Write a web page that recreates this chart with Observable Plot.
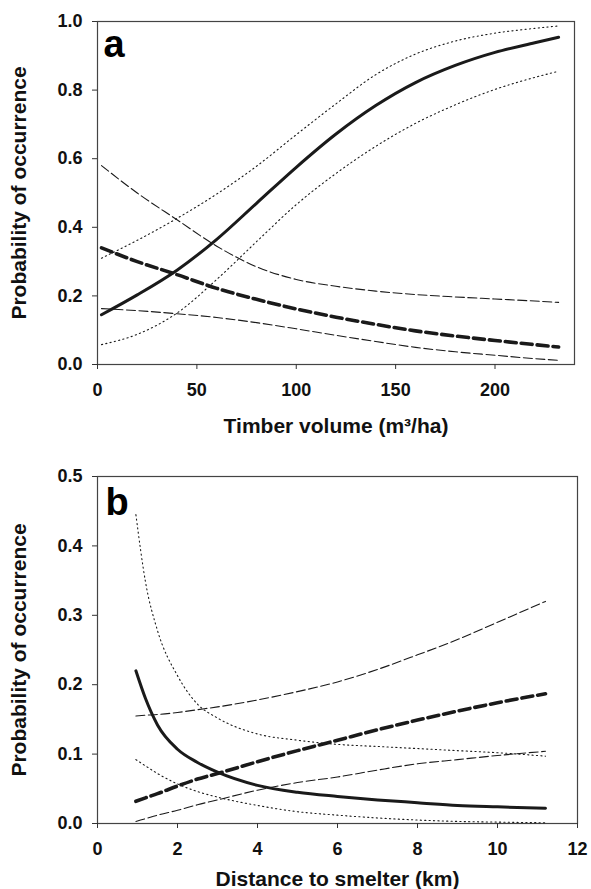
<!DOCTYPE html>
<html>
<head>
<meta charset="utf-8">
<script src="https://cdn.jsdelivr.net/npm/d3@7"></script>
<script src="https://cdn.jsdelivr.net/npm/@observablehq/plot@0.6"></script>
<style>
  html, body { margin: 0; padding: 0; background: #fff; }
  #chart { width: 591px; }
  #chart svg { display: block; }
</style>
</head>
<body>
<div id="chart"></div>
<script>
// ---------- Panel a: Timber volume ----------
const xA = [2, 20, 40, 60, 80, 100, 120, 140, 160, 180, 200, 220, 232];
const aFitSolid   = [0.145, 0.203, 0.275, 0.365, 0.470, 0.575, 0.672, 0.755, 0.822, 0.872, 0.910, 0.938, 0.954];
const aUpperDot   = [0.310, 0.362, 0.426, 0.497, 0.578, 0.670, 0.760, 0.845, 0.905, 0.943, 0.966, 0.980, 0.987];
const aLowerDot   = [0.058, 0.088, 0.150, 0.248, 0.358, 0.466, 0.557, 0.636, 0.703, 0.757, 0.802, 0.837, 0.855];
const aFitDash    = [0.340, 0.300, 0.262, 0.222, 0.190, 0.162, 0.138, 0.117, 0.098, 0.083, 0.070, 0.058, 0.051];
const aUpperDash  = [0.580, 0.500, 0.422, 0.345, 0.285, 0.248, 0.228, 0.214, 0.204, 0.197, 0.191, 0.185, 0.181];
const aLowerDash  = [0.163, 0.157, 0.148, 0.137, 0.122, 0.104, 0.085, 0.067, 0.050, 0.037, 0.027, 0.017, 0.012];
const aTicksX = [0, 50, 100, 150, 200];
const aTicksY = [0, 0.2, 0.4, 0.6, 0.8, 1.0];

// ---------- Panel b: Distance to smelter ----------
const xB = [0.96, 1.2, 1.5, 2, 2.5, 3, 4, 5, 6, 7, 8, 9, 10, 11.2];
const bFitSolid   = [0.220, 0.180, 0.142, 0.107, 0.088, 0.074, 0.055, 0.045, 0.039, 0.034, 0.030, 0.026, 0.024, 0.022];
const bUpperDot   = [0.445, 0.348, 0.278, 0.213, 0.172, 0.152, 0.129, 0.120, 0.114, 0.111, 0.108, 0.105, 0.102, 0.097];
const bLowerDot   = [0.092, 0.083, 0.072, 0.057, 0.046, 0.038, 0.026, 0.017, 0.012, 0.008, 0.005, 0.003, 0.002, 0.001];
const bFitDash    = [0.032, 0.037, 0.043, 0.054, 0.064, 0.072, 0.089, 0.105, 0.120, 0.135, 0.149, 0.162, 0.174, 0.187];
const bUpperDash  = [0.155, 0.156, 0.157, 0.160, 0.164, 0.168, 0.178, 0.190, 0.204, 0.222, 0.243, 0.265, 0.290, 0.320];
const bLowerDash  = [0.003, 0.007, 0.012, 0.019, 0.027, 0.034, 0.048, 0.059, 0.067, 0.077, 0.086, 0.092, 0.098, 0.104];
const bTicksX = [0, 2, 4, 6, 8, 10, 12];
const bTicksY = [0, 0.1, 0.2, 0.3, 0.4, 0.5];

const yLabel = "Probability of occurrence";
const aXLabel = "Timber volume (m³/ha)";
const bXLabel = "Distance to smelter (km)";

const FONT = "'Liberation Sans', Arial, Helvetica, sans-serif";
const INK = "#1a1a1a";

function rows(xs, series) {
  return xs.map((x, i) => {
    const r = {x};
    for (const k in series) r[k] = series[k][i];
    return r;
  });
}

function panel({data, xDomain, yDomain, xTicks, yTicks, xLabel, letter, height, marginTop, marginBottom, marginRight, xLabelDy, letterDx, letterDy}) {
  const common = {x: "x", curve: "monotone-x", stroke: INK};
  return Plot.plot({
    width: 591,
    height,
    marginLeft: 97,
    marginRight,
    marginTop,
    marginBottom,
    style: {fontFamily: FONT, background: "#fff", overflow: "visible"},
    x: {domain: xDomain},
    y: {domain: yDomain},
    marks: [
      Plot.frame({stroke: "#444", strokeWidth: 1.2}),
      Plot.axisX({ticks: xTicks, tickSize: 5, tickPadding: 14, tickFormat: d => String(d), fontSize: 18, fontWeight: "bold", fill: "#111", stroke: "#333", label: null}),
      Plot.axisY({ticks: yTicks, tickSize: 5, tickPadding: 10, tickFormat: d3.format(".1f"), fontSize: 18, fontWeight: "bold", fill: "#111", stroke: "#333", label: null}),
      Plot.line(data, {...common, y: "upperDot", strokeWidth: 1.1, strokeDasharray: "1.2,3.2"}),
      Plot.line(data, {...common, y: "lowerDot", strokeWidth: 1.1, strokeDasharray: "1.2,3.2"}),
      Plot.line(data, {...common, y: "upperDash", strokeWidth: 1.1, strokeDasharray: "9,3.5"}),
      Plot.line(data, {...common, y: "lowerDash", strokeWidth: 1.1, strokeDasharray: "9,3.5"}),
      Plot.line(data, {...common, y: "fitDash", strokeWidth: 3.6, strokeDasharray: "11,5"}),
      Plot.line(data, {...common, y: "fitSolid", strokeWidth: 3}),
      Plot.text([yLabel], {text: d => d, frameAnchor: "left", rotate: -90, dx: -78, lineAnchor: "middle", textAnchor: "middle", fontSize: 21, fontWeight: "bold", fill: "#111"}),
      Plot.text([xLabel], {text: d => d, frameAnchor: "bottom", dy: xLabelDy, lineAnchor: "middle", textAnchor: "middle", fontSize: 21, fontWeight: "bold", fill: "#111"}),
      Plot.text([letter], {text: d => d, frameAnchor: "top-left", dx: letterDx, dy: letterDy, lineAnchor: "top", textAnchor: "start", fontSize: 38, fontWeight: "bold", fill: "#000"})
    ]
  });
}

const dataA = rows(xA, {fitSolid: aFitSolid, upperDot: aUpperDot, lowerDot: aLowerDot, fitDash: aFitDash, upperDash: aUpperDash, lowerDash: aLowerDash});
const dataB = rows(xB, {fitSolid: bFitSolid, upperDot: bUpperDot, lowerDot: bLowerDot, fitDash: bFitDash, upperDash: bUpperDash, lowerDash: bLowerDash});

const chart = document.getElementById("chart");
chart.append(panel({
  data: dataA, xDomain: [0, 240], yDomain: [0, 1], xTicks: aTicksX, yTicks: aTicksY,
  xLabel: aXLabel, letter: "a", height: 445, marginTop: 21, marginBottom: 81, marginRight: 17,
  xLabelDy: 62, letterDx: 6, letterDy: 9
}));
chart.append(panel({
  data: dataB, xDomain: [0, 12], yDomain: [0, 0.5], xTicks: bTicksX, yTicks: bTicksY,
  xLabel: bXLabel, letter: "b", height: 444, marginTop: 31, marginBottom: 66, marginRight: 14,
  xLabelDy: 56, letterDx: 8, letterDy: 12
}));
</script>
</body>
</html>
